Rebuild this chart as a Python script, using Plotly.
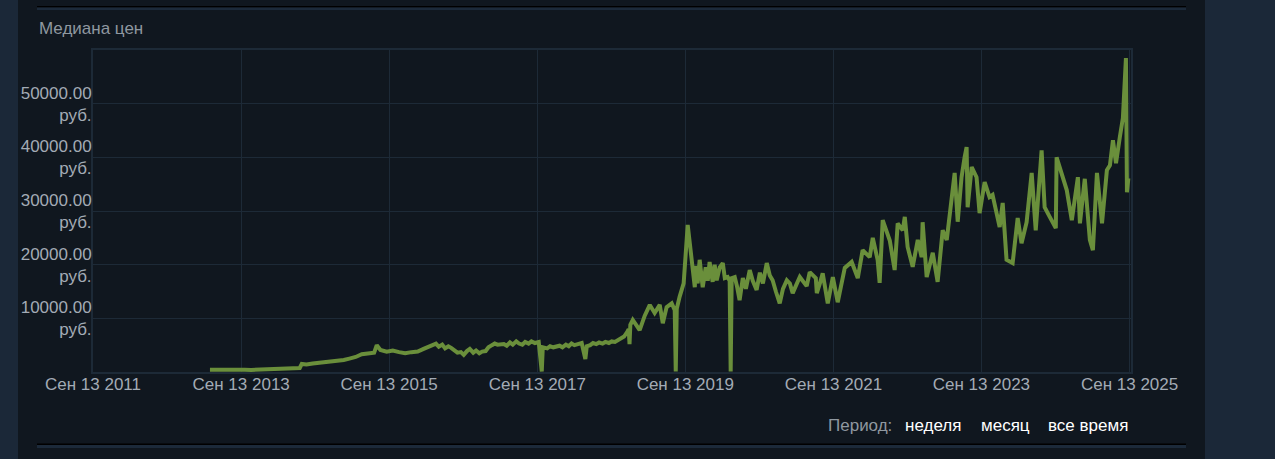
import plotly.graph_objects as go

# ---- data ----
dates = [
    # 2013 - 2014
    "2013-04-12", "2013-05-01", "2013-06-01", "2013-07-01", "2013-08-01", "2013-09-01",
    "2013-10-01", "2013-11-01", "2013-12-01", "2014-01-01", "2014-02-01", "2014-03-01",
    "2014-04-01", "2014-05-01", "2014-06-01", "2014-06-29", "2014-07-09", "2014-08-01",
    "2014-09-01", "2014-10-01", "2014-11-01", "2014-12-01",
    # 2015
    "2015-01-01", "2015-02-01", "2015-03-01", "2015-04-01", "2015-05-01", "2015-06-01",
    "2015-07-01", "2015-07-14", "2015-08-01", "2015-09-01", "2015-10-01", "2015-11-01",
    "2015-12-01",
    # 2016
    "2016-01-01", "2016-02-01", "2016-03-01", "2016-04-01", "2016-05-01", "2016-05-15",
    "2016-06-01", "2016-06-15", "2016-07-01", "2016-07-15", "2016-08-01", "2016-08-15",
    "2016-09-01", "2016-09-15", "2016-10-01", "2016-10-15", "2016-11-01", "2016-11-15",
    "2016-12-01", "2016-12-15",
    # 2017
    "2017-01-01", "2017-01-15", "2017-02-01", "2017-02-15", "2017-03-01", "2017-04-01",
    "2017-04-15", "2017-05-01", "2017-05-15", "2017-06-01", "2017-06-15", "2017-07-01",
    "2017-07-15", "2017-08-01", "2017-08-15", "2017-09-01", "2017-09-20", "2017-10-05",
    "2017-10-10", "2017-11-01", "2017-11-15", "2017-12-01",
    # 2018
    "2018-01-01", "2018-01-15", "2018-02-01", "2018-02-15", "2018-03-01", "2018-03-15",
    "2018-04-01", "2018-04-20", "2018-05-08", "2018-05-15", "2018-06-01", "2018-06-15",
    "2018-07-01", "2018-07-15", "2018-08-01", "2018-08-15", "2018-09-01", "2018-09-15",
    "2018-10-01", "2018-10-15", "2018-11-01", "2018-11-15", "2018-12-01", "2018-12-08",
    "2018-12-12", "2018-12-16", "2018-12-28",
    # 2019
    "2019-01-31", "2019-02-25", "2019-03-22", "2019-04-15", "2019-05-10", "2019-05-25",
    "2019-06-13", "2019-07-08", "2019-07-23", "2019-07-28", "2019-08-02", "2019-08-16",
    "2019-09-05", "2019-09-25", "2019-10-15", "2019-10-24", "2019-10-30", "2019-11-03",
    "2019-11-13", "2019-11-23", "2019-12-08", "2019-12-23",
    # 2020
    "2020-01-02", "2020-01-11", "2020-01-26", "2020-02-05", "2020-02-15", "2020-03-01",
    "2020-03-16", "2020-03-26", "2020-04-09", "2020-04-19", "2020-04-24", "2020-04-29",
    "2020-05-14", "2020-05-25", "2020-06-07", "2020-06-23", "2020-07-08", "2020-07-27",
    "2020-08-11", "2020-08-30", "2020-09-15", "2020-09-30", "2020-10-19", "2020-11-03",
    "2020-11-17", "2020-12-03", "2020-12-22",
    # 2021
    "2021-01-07", "2021-01-26", "2021-02-10", "2021-02-24", "2021-03-11", "2021-03-31",
    "2021-05-04", "2021-05-19", "2021-06-18", "2021-06-23", "2021-07-08", "2021-07-22",
    "2021-08-16", "2021-09-10", "2021-10-04", "2021-11-08", "2021-12-12",
    # 2022
    "2022-01-11", "2022-02-04", "2022-03-11", "2022-03-26", "2022-04-19", "2022-04-29",
    "2022-05-14", "2022-06-18", "2022-07-12", "2022-07-27", "2022-08-21", "2022-08-31",
    "2022-09-14", "2022-10-09", "2022-11-03", "2022-11-22", "2022-11-27", "2022-12-17",
    # 2023
    "2023-01-16", "2023-02-09", "2023-03-06", "2023-03-26", "2023-04-19", "2023-05-04",
    "2023-05-19", "2023-06-07", "2023-06-22", "2023-07-02", "2023-07-07", "2023-07-27",
    "2023-08-20", "2023-09-04", "2023-09-29", "2023-10-23", "2023-11-07", "2023-11-27",
    "2023-12-12", "2023-12-27",
    # 2024
    "2024-01-15", "2024-02-14", "2024-03-10", "2024-03-29", "2024-04-23", "2024-05-18",
    "2024-06-07", "2024-07-06", "2024-07-21", "2024-08-15", "2024-09-14", "2024-09-18",
    "2024-11-07", "2024-12-02",
    # 2025
    "2025-01-01", "2025-01-11", "2025-02-04", "2025-03-01", "2025-03-16", "2025-04-05",
    "2025-04-30", "2025-05-24", "2025-06-08", "2025-06-23", "2025-07-08", "2025-07-27",
    "2025-08-11", "2025-08-26", "2025-08-31", "2025-09-07",
]
prices = [
    # 2013 - 2014
    400, 380, 420, 360, 380, 350,
    400, 380, 420, 450, 430, 500,
    560, 600, 700, 750, 1500, 1400,
    1600, 1700, 1850, 1900,
    # 2015
    2100, 2250, 2500, 2800, 3300, 3500,
    3600, 5000, 4100, 3800, 4000, 3700,
    3500,
    # 2016
    3700, 3800, 4300, 4800, 5300, 4700,
    5100, 4400, 4800, 4500, 4100, 3600,
    3700, 3200, 3900, 4300, 3600, 4000,
    3500, 3800,
    # 2017
    3900, 4600, 5000, 5300, 5100, 5200,
    4900, 5500, 5100, 5700, 5300, 5100,
    5600, 5300, 5700, 5400, 5600, 100,
    4600, 4400, 4800, 4600,
    # 2018
    4900, 4600, 5100, 4800, 5300, 5000,
    5200, 5400, 2400, 4800, 5000, 5400,
    5200, 5500, 5300, 5600, 5400, 5700,
    5600, 5900, 6200, 6600, 7500, 8000,
    5200, 8800, 9700,
    # 2019
    7800, 10500, 12500, 11000, 12500, 9100,
    12100, 12800, 11500, 100, 11800, 14000,
    16500, 27400, 20900, 18500, 15800, 19800,
    16500, 20900, 15800, 19500,
    # 2020
    17000, 20500, 16800, 20000, 17100, 19500,
    20300, 17500, 17700, 17000, 100, 17500,
    17700, 16000, 13400, 17500, 15500, 19000,
    17000, 15300, 18500, 16500, 20300, 18000,
    17100, 15000, 12800,
    # 2021
    15500, 17100, 16500, 14700, 16000, 17700,
    16000, 18600, 17500, 14700, 16500, 18400,
    12800, 17700, 13000, 19400, 20500,
    # 2022
    17500, 22700, 21400, 25000, 20900, 16600,
    28300, 24500, 19000, 27700, 26400, 28900,
    23300, 19600, 24600, 21400, 27900, 17700,
    # 2023
    22200, 16800, 26400, 24600, 31700, 37100,
    28000, 36300, 40000, 41900, 30700, 38200,
    36300, 29600, 35400, 32600, 33000, 29600,
    27000, 31500,
    # 2024
    20900, 20300, 28700, 24000, 27900, 37100,
    26400, 41300, 30700, 28900, 26800, 40000,
    33900, 28300,
    # 2025
    36300, 27700, 36000, 24600, 22700, 37100,
    27700, 37600, 38500, 43200, 38900, 43800,
    47300, 58500, 33500, 36100,
]

x_tick_dates = ["2011-09-13", "2013-09-13", "2015-09-13", "2017-09-13",
                "2019-09-13", "2021-09-13", "2023-09-13", "2025-09-13"]
x_tick_text = ["Сен 13 2011", "Сен 13 2013", "Сен 13 2015", "Сен 13 2017",
               "Сен 13 2019", "Сен 13 2021", "Сен 13 2023", "Сен 13 2025"]
y_tick_vals = [10000, 20000, 30000, 40000, 50000]
y_tick_text = ["10000.00<br>руб.", "20000.00<br>руб.", "30000.00<br>руб.",
               "40000.00<br>руб.", "50000.00<br>руб."]

# ---- layout geometry (pixels) ----
W, H = 1275, 459
PL, PR, PT, PB = 93, 1131, 50, 372


def px(x):
    return (x - PL) / (PR - PL)


def py(y):
    return (PB - y) / (PB - PT)


FONT = "Liberation Sans, Arial, sans-serif"
LABEL = "#a3abb5"
MUTED = "#8f98a0"
GRID = "#1d2a37"
PANEL = "#10171f"
OUTER = "#1b2838"

fig = go.Figure()
fig.add_trace(go.Scatter(
    x=dates, y=prices, mode="lines",
    line=dict(color="#6a8f3b", width=4),
    hoverinfo="skip", showlegend=False,
))

shapes = [
    dict(type="rect", xref="paper", yref="paper", x0=px(18), x1=px(1205),
         y0=py(H), y1=py(0), fillcolor=PANEL, line=dict(width=0), layer="below"),
    dict(type="rect", xref="paper", yref="paper", x0=px(37), x1=px(1186),
         y0=py(7.5), y1=py(6), fillcolor="#000000", line=dict(width=0)),
    dict(type="rect", xref="paper", yref="paper", x0=px(37), x1=px(1186),
         y0=py(10), y1=py(7.5), fillcolor="#1c2a3a", line=dict(width=0)),
    dict(type="rect", xref="paper", yref="paper", x0=px(37), x1=px(1186),
         y0=py(445), y1=py(443.5), fillcolor="#000000", line=dict(width=0)),
    dict(type="rect", xref="paper", yref="paper", x0=px(37), x1=px(1186),
         y0=py(448), y1=py(445), fillcolor="#1c2a3a", line=dict(width=0)),
]

annotations = [
    dict(text="Медиана цен", xref="paper", yref="paper", x=px(37), y=py(29),
         xanchor="left", yanchor="middle", showarrow=False,
         font=dict(family=FONT, size=17, color=MUTED)),
    dict(text="Период:", xref="paper", yref="paper", x=px(894), y=py(425),
         xanchor="right", yanchor="middle", showarrow=False,
         font=dict(family=FONT, size=17, color=MUTED)),
    dict(text="неделя", xref="paper", yref="paper", x=px(903), y=py(425),
         xanchor="left", yanchor="middle", showarrow=False,
         font=dict(family=FONT, size=17, color="#ffffff")),
    dict(text="месяц", xref="paper", yref="paper", x=px(979), y=py(425),
         xanchor="left", yanchor="middle", showarrow=False,
         font=dict(family=FONT, size=17, color="#ffffff")),
    dict(text="все время", xref="paper", yref="paper", x=px(1046), y=py(425),
         xanchor="left", yanchor="middle", showarrow=False,
         font=dict(family=FONT, size=17, color="#ffffff")),
]

fig.update_layout(
    width=W, height=H,
    margin=dict(l=PL, r=W - PR, t=PT, b=H - PB, pad=0),
    paper_bgcolor=OUTER, plot_bgcolor=PANEL,
    font=dict(family=FONT, size=17, color=LABEL),
    shapes=shapes, annotations=annotations,
    xaxis=dict(
        type="date", range=["2011-09-13", "2025-09-20"],
        tickmode="array", tickvals=x_tick_dates, ticktext=x_tick_text,
        showgrid=True, gridcolor=GRID, gridwidth=1,
        showline=True, linecolor=GRID, linewidth=2, mirror=True,
        ticks="", zeroline=False, fixedrange=True,
        tickfont=dict(family=FONT, size=17, color=LABEL),
        ticklabelstandoff=-4,
    ),
    yaxis=dict(
        range=[0, 60000],
        tickmode="array", tickvals=y_tick_vals, ticktext=y_tick_text,
        showgrid=True, gridcolor=GRID, gridwidth=1,
        showline=True, linecolor=GRID, linewidth=2, mirror=True,
        ticks="", zeroline=False, fixedrange=True,
        tickfont=dict(family=FONT, size=17, color=LABEL),
        ticklabelstandoff=-4,
    ),
)

fig.write_html(
    "out.html",
    config={"displayModeBar": False},
    post_script="document.body.style.margin='0px';document.body.style.background='#1b2838';",
)
